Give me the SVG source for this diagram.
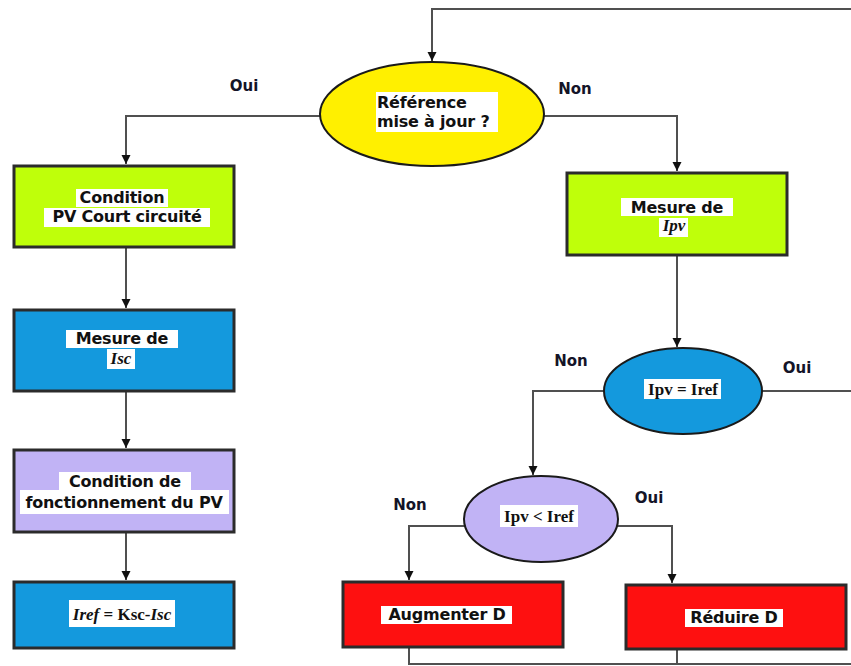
<svg xmlns="http://www.w3.org/2000/svg" width="851" height="666" viewBox="0 0 851 666">
<style>
.box{stroke:#2b2b2b;stroke-width:3}
.ell{stroke:#1a1a1a;stroke-width:2}
.green{fill:#bfff0a}
.blue{fill:#1499dd}
.lav{fill:#c1b3f5}
.red{fill:#fe1010}
.yel{fill:#fff000}
.bg{fill:#ffffff}
.t{font-family:"DejaVu Sans",Verdana,sans-serif;font-weight:bold;font-size:16px;letter-spacing:-0.2px;fill:#111;text-anchor:middle}
.s{font-family:"Liberation Serif","Times New Roman",serif;font-weight:bold;font-size:17px;fill:#111;text-anchor:middle}
.lbl{font-family:"DejaVu Sans",Verdana,sans-serif;font-weight:bold;font-size:15px;fill:#141428;text-anchor:middle}
.c{fill:none;stroke:#505050;stroke-width:2}
</style>
<defs>
<marker id="a" markerUnits="userSpaceOnUse" markerWidth="10" markerHeight="10" refX="9" refY="5" orient="auto" viewBox="0 0 10 10">
<path d="M0,0.5 L9,5 L0,9.5 z" fill="#111"/>
</marker>
</defs>
<rect width="851" height="666" fill="#ffffff"/>

<g id="connectors">
<path class="c" d="M851,9 H432 V61" marker-end="url(#a)"/>
<path class="c" d="M320,116 H126 V164" marker-end="url(#a)"/>
<path class="c" d="M544,116 H677 V171" marker-end="url(#a)"/>
<path class="c" d="M126,248 V308" marker-end="url(#a)"/>
<path class="c" d="M126,392 V448" marker-end="url(#a)"/>
<path class="c" d="M126,533 V580" marker-end="url(#a)"/>
<path class="c" d="M677,256 V347" marker-end="url(#a)"/>
<path class="c" d="M604,391 H533 V475" marker-end="url(#a)"/>
<path class="c" d="M762,391 H851"/>
<path class="c" d="M465,526 H409 V580" marker-end="url(#a)"/>
<path class="c" d="M617,526 H672 V583" marker-end="url(#a)"/>
<path class="c" d="M409,648 V664 H851"/>
<path class="c" d="M677,650 V664"/>
</g>

<g id="labels">
<text class="lbl" x="244" y="91">Oui</text>
<text class="lbl" x="575" y="94">Non</text>
<text class="lbl" x="571" y="366">Non</text>
<text class="lbl" x="797" y="373">Oui</text>
<text class="lbl" x="410" y="510">Non</text>
<text class="lbl" x="649" y="503">Oui</text>
</g>

<g id="ref-update">
<ellipse class="ell yel" cx="432" cy="114" rx="112" ry="52"/>
<rect class="bg" x="376" y="92" width="122" height="40"/>
<text class="t" x="377" y="108" style="text-anchor:start">Référence</text>
<text class="t" x="377" y="127" style="text-anchor:start">mise à jour ?</text>
</g>

<g id="pv-short">
<rect class="box green" x="14" y="166" width="220" height="81"/>
<rect class="bg" x="76" y="189" width="92" height="18"/>
<rect class="bg" x="44" y="208" width="166" height="19"/>
<text class="t" x="122" y="203">Condition</text>
<text class="t" x="127" y="222">PV Court circuité</text>
</g>

<g id="measure-isc">
<rect class="box blue" x="14" y="310" width="220" height="81"/>
<rect class="bg" x="66" y="330" width="112" height="18"/>
<rect class="bg" x="107" y="349" width="28" height="20"/>
<text class="t" x="122" y="344">Mesure de</text>
<text class="s" x="121" y="364" style="font-style:italic">Isc</text>
</g>

<g id="operating">
<rect class="box lav" x="14" y="450" width="220" height="82"/>
<rect class="bg" x="59" y="472" width="132" height="18"/>
<rect class="bg" x="20" y="490" width="209" height="24"/>
<text class="t" x="125" y="487">Condition de</text>
<text class="t" x="124" y="508">fonctionnement du PV</text>
</g>

<g id="iref">
<rect class="box blue" x="14" y="582" width="220" height="66"/>
<rect class="bg" x="69" y="600" width="106" height="27"/>
<text class="s" x="122" y="620"><tspan style="font-style:italic">Iref</tspan> = Ksc-<tspan style="font-style:italic">Isc</tspan></text>
</g>

<g id="measure-ipv">
<rect class="box green" x="567" y="173" width="220" height="82"/>
<rect class="bg" x="621" y="198" width="112" height="18"/>
<rect class="bg" x="659" y="218" width="29" height="19"/>
<text class="t" x="677" y="213">Mesure de</text>
<text class="s" x="674" y="231" style="font-style:italic">Ipv</text>
</g>

<g id="ipv-eq">
<ellipse class="ell blue" cx="683" cy="391" rx="79" ry="43"/>
<rect class="bg" x="644" y="379" width="77" height="20"/>
<text class="s" x="683" y="395">Ipv = Iref</text>
</g>

<g id="ipv-lt">
<ellipse class="ell lav" cx="541" cy="519" rx="77" ry="43"/>
<rect class="bg" x="500" y="505" width="78" height="22"/>
<text class="s" x="539" y="522">Ipv &lt; Iref</text>
</g>

<g id="increase">
<rect class="box red" x="343" y="582" width="220" height="65"/>
<rect class="bg" x="381" y="606" width="131" height="18"/>
<text class="t" x="447" y="620">Augmenter D</text>
</g>

<g id="decrease">
<rect class="box red" x="626" y="585" width="220" height="64"/>
<rect class="bg" x="685" y="609" width="98" height="18"/>
<text class="t" x="734" y="623">Réduire D</text>
</g>
</svg>
